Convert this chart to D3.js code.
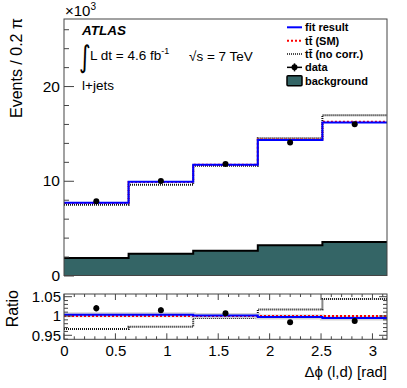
<!DOCTYPE html>
<html>
<head>
<meta charset="utf-8">
<script src="https://cdn.jsdelivr.net/npm/d3@7"></script>
<style>
  body { margin: 0; background: #fff; }
  svg { font-family: "Liberation Sans", Arial, sans-serif; }
</style>
</head>
<body>
<svg id="graph" width="407" height="388"></svg>
<script>
// bin edges in dphi (l,d), 5 bins of 0.2 pi
var binEdges = [0, 0.2 * Math.PI, 0.4 * Math.PI, 0.6 * Math.PI, 0.8 * Math.PI, Math.PI];
var binCenters = binEdges.slice(0, 5).map((e, i) => (e + binEdges[i + 1]) / 2);

// main panel, events in units of 10^3
var fitResult = [7.69, 9.90, 11.70, 14.31, 16.14];
var ttSM = [7.66, 9.87, 11.69, 14.35, 16.22];
var ttNoCorr = [7.48, 9.59, 11.60, 14.49, 16.92];
var dataValues = [7.83, 9.98, 11.77, 14.03, 15.97];
var background = [1.85, 2.30, 2.62, 3.19, 3.54];

// ratio panel
var ratioFit = [1.0035, 1.0035, 1.001, 0.9975, 0.995];
var ratioSM = [1.0, 1.0, 1.0, 1.0, 1.0];
var ratioNoCorr = [0.966, 0.972, 0.995, 1.017, 1.044];
var ratioData = [1.020, 1.015, 1.007, 0.984, 0.987];
var ratioErr = [0.008, 0.007, 0.006, 0.005, 0.005];

var yTicksMain = [0, 10, 20];
var yTicksRatio = [0.95, 1, 1.05];
var xTicks = [0, 0.5, 1, 1.5, 2, 2.5, 3];

var legendLabels = ["fit result", "tt\u0304 (SM)", "tt\u0304 (no corr.)", "data", "background"];

var left = 64, right = 387;
var mainTop = 19, mainBottom = 275.5;
var ratioTop = 294, ratioBottom = 339.3;

var svg = d3.select("svg#graph");

var x = d3.scaleLinear().domain([0, Math.PI]).range([left, right]);
var yMain = d3.scaleLinear().domain([0, 27.08]).range([mainBottom, mainTop]);
var yRatio = d3.scaleLinear().domain([0.9396, 1.057]).range([ratioBottom, ratioTop]);

function stepLine(values, yScale) {
  var pts = binEdges.map((e, i) => [e, values[Math.min(i, values.length - 1)]]);
  return d3.line()
    .x(d => x(d[0]))
    .y(d => yScale(d[1]))
    .curve(d3.curveStepAfter)(pts);
}

function stepArea(values, yScale) {
  var pts = binEdges.map((e, i) => [e, values[Math.min(i, values.length - 1)]]);
  return d3.area()
    .x(d => x(d[0]))
    .y0(yScale(0))
    .y1(d => yScale(d[1]))
    .curve(d3.curveStepAfter)(pts);
}

// ---------- main panel ----------
var main = svg.append("g");

main.append("path")
  .attr("d", stepArea(background, yMain))
  .attr("fill", "#346566");
main.append("path")
  .attr("d", stepLine(background, yMain))
  .attr("fill", "none")
  .attr("stroke", "#000")
  .attr("stroke-width", 2);

main.append("path")
  .attr("d", stepLine(ttNoCorr, yMain))
  .attr("fill", "none")
  .attr("stroke", "#111")
  .attr("stroke-width", 2)
  .attr("stroke-dasharray", "1,1");

main.append("path")
  .attr("d", stepLine(ttSM, yMain))
  .attr("fill", "none")
  .attr("stroke", "#ff0000")
  .attr("stroke-width", 2)
  .attr("stroke-dasharray", "2,2");

main.append("path")
  .attr("d", stepLine(fitResult, yMain))
  .attr("fill", "none")
  .attr("stroke", "#0000ff")
  .attr("stroke-width", 2);

main.selectAll("circle.data")
  .data(dataValues)
  .enter()
  .append("circle")
  .attr("class", "data")
  .attr("cx", (d, i) => x(binCenters[i]))
  .attr("cy", d => yMain(d))
  .attr("r", 3)
  .attr("fill", "#000");

// frame
main.append("rect")
  .attr("x", left).attr("y", mainTop)
  .attr("width", right - left).attr("height", mainBottom - mainTop)
  .attr("fill", "none").attr("stroke", "#444").attr("stroke-width", 1);

// y axis, ROOT style ticks pointing inwards
var yAxisMain = d3.axisRight(yMain)
  .tickValues(d3.range(0, 27, 2))
  .tickSize(5)
  .tickFormat("");
main.append("g")
  .attr("transform", "translate(" + left + ",0)")
  .call(yAxisMain)
  .call(g => g.select(".domain").remove())
  .call(g => g.selectAll(".tick line")
    .attr("stroke", "#444")
    .attr("x2", d => yTicksMain.includes(d) ? 10 : 5));

main.selectAll("text.ytick")
  .data(yTicksMain)
  .enter()
  .append("text")
  .attr("class", "ytick")
  .attr("x", left - 4)
  .attr("y", d => yMain(d) + 5.5)
  .attr("text-anchor", "end")
  .attr("font-size", 15.5)
  .text(d => d);

main.append("text")
  .attr("x", left + 1)
  .attr("y", 16)
  .attr("font-size", 15)
  .html('\u00d710<tspan dy="-6" font-size="10">3</tspan>');

main.append("text")
  .attr("transform", "translate(22,18) rotate(-90)")
  .attr("text-anchor", "end")
  .attr("font-size", 16)
  .text("Events / 0.2 \u03c0");

// labels in the plot
main.append("text")
  .attr("x", 82).attr("y", 35)
  .attr("font-size", 13.5)
  .attr("font-weight", "bold")
  .attr("font-style", "italic")
  .text("ATLAS");

main.append("text")
  .attr("transform", "translate(79,67) scale(0.75,1)")
  .attr("font-family", "DejaVu Sans")
  .attr("font-size", 30)
  .text("\u222b");

main.append("text")
  .attr("x", 90).attr("y", 60)
  .attr("font-size", 13.5)
  .html('L dt = 4.6 fb<tspan dy="-6" font-size="9">-1</tspan>');

main.append("text")
  .attr("x", 189).attr("y", 61)
  .attr("font-size", 13.5)
  .text("\u221as = 7 TeV");

main.append("text")
  .attr("x", 82).attr("y", 90)
  .attr("font-size", 13.5)
  .text("l+jets");

// legend
var legend = main.append("g");
var rowY = d3.scaleLinear().domain([0, 4]).range([27.3, 80.7]);
var lx0 = 287, lx1 = 302;

legend.append("line")
  .attr("x1", lx0).attr("x2", lx1).attr("y1", rowY(0)).attr("y2", rowY(0))
  .attr("stroke", "#0000ff").attr("stroke-width", 2);
legend.append("line")
  .attr("x1", lx0).attr("x2", lx1).attr("y1", rowY(1)).attr("y2", rowY(1))
  .attr("stroke", "#ff0000").attr("stroke-width", 2).attr("stroke-dasharray", "2,2");
legend.append("line")
  .attr("x1", lx0).attr("x2", lx1).attr("y1", rowY(2)).attr("y2", rowY(2))
  .attr("stroke", "#111").attr("stroke-width", 1.5).attr("stroke-dasharray", "1,1");
legend.append("line")
  .attr("x1", lx0).attr("x2", lx1).attr("y1", rowY(3)).attr("y2", rowY(3))
  .attr("stroke", "#000").attr("stroke-width", 1.5);
legend.append("line")
  .attr("x1", (lx0 + lx1) / 2).attr("x2", (lx0 + lx1) / 2)
  .attr("y1", rowY(3) - 4).attr("y2", rowY(3) + 4)
  .attr("stroke", "#000").attr("stroke-width", 1.5);
legend.append("circle")
  .attr("cx", (lx0 + lx1) / 2).attr("cy", rowY(3)).attr("r", 3).attr("fill", "#000");
legend.append("rect")
  .attr("x", lx0).attr("y", rowY(4) - 5)
  .attr("width", lx1 - lx0).attr("height", 10)
  .attr("rx", 1)
  .attr("fill", "#346566").attr("stroke", "#000").attr("stroke-width", 1.5);

legend.selectAll("text")
  .data(legendLabels)
  .enter()
  .append("text")
  .attr("x", 305)
  .attr("y", (d, i) => rowY(i) + 4)
  .attr("font-size", 11)
  .attr("font-weight", "bold")
  .text(d => d);

// ---------- ratio panel ----------
var ratio = svg.append("g");

ratio.append("path")
  .attr("d", stepLine(ratioNoCorr, yRatio))
  .attr("fill", "none")
  .attr("stroke", "#111")
  .attr("stroke-width", 2)
  .attr("stroke-dasharray", "1,1");

ratio.append("path")
  .attr("d", stepLine(ratioFit, yRatio))
  .attr("fill", "none")
  .attr("stroke", "#d4d4d4")
  .attr("stroke-width", 5);

ratio.append("path")
  .attr("d", stepLine(ratioSM, yRatio))
  .attr("fill", "none")
  .attr("stroke", "#ff0000")
  .attr("stroke-width", 2)
  .attr("stroke-dasharray", "2,2");

ratio.append("path")
  .attr("d", stepLine(ratioFit, yRatio))
  .attr("fill", "none")
  .attr("stroke", "#0000ff")
  .attr("stroke-width", 2);

ratio.selectAll("line.err")
  .data(ratioData)
  .enter()
  .append("line")
  .attr("class", "err")
  .attr("x1", (d, i) => x(binCenters[i]))
  .attr("x2", (d, i) => x(binCenters[i]))
  .attr("y1", (d, i) => yRatio(d - ratioErr[i]))
  .attr("y2", (d, i) => yRatio(d + ratioErr[i]))
  .attr("stroke", "#000")
  .attr("stroke-width", 2);

ratio.selectAll("circle.data")
  .data(ratioData)
  .enter()
  .append("circle")
  .attr("class", "data")
  .attr("cx", (d, i) => x(binCenters[i]))
  .attr("cy", d => yRatio(d))
  .attr("r", 3)
  .attr("fill", "#000");

ratio.append("rect")
  .attr("x", left).attr("y", ratioTop)
  .attr("width", right - left).attr("height", ratioBottom - ratioTop)
  .attr("fill", "none").attr("stroke", "#444").attr("stroke-width", 1);

// y ticks on both sides
var yMinor = d3.range(0.94, 1.0575, 0.01).map(v => +v.toFixed(2));
[[left, 1], [right, -1]].forEach(function (side) {
  ratio.append("g")
    .selectAll("line")
    .data(yMinor)
    .enter()
    .append("line")
    .attr("x1", side[0])
    .attr("x2", d => side[0] + side[1] * (yTicksRatio.includes(d) ? 8 : 4))
    .attr("y1", d => yRatio(d))
    .attr("y2", d => yRatio(d))
    .attr("stroke", "#444");
});

// x ticks on bottom and top
var xMinor = d3.range(0, 3.15, 0.1).map(v => +v.toFixed(1));
[[ratioBottom, -1], [ratioTop, 1]].forEach(function (side) {
  ratio.append("g")
    .selectAll("line")
    .data(xMinor)
    .enter()
    .append("line")
    .attr("x1", d => x(d))
    .attr("x2", d => x(d))
    .attr("y1", side[0])
    .attr("y2", d => side[0] + side[1] * (xTicks.includes(d) ? 6 : 3))
    .attr("stroke", "#444");
});

ratio.selectAll("text.ytick")
  .data(yTicksRatio)
  .enter()
  .append("text")
  .attr("class", "ytick")
  .attr("x", left - 3)
  .attr("y", d => yRatio(d) + 5.5)
  .attr("text-anchor", "end")
  .attr("font-size", 15)
  .text(d => d);

var xAxis = d3.axisBottom(x)
  .tickValues(xTicks)
  .tickSize(0)
  .tickPadding(6)
  .tickFormat(d => d);
ratio.append("g")
  .attr("transform", "translate(0," + ratioBottom + ")")
  .call(xAxis)
  .call(g => g.select(".domain").remove())
  .call(g => g.selectAll("text")
    .attr("font-size", 15)
    .attr("font-family", "Liberation Sans, Arial, sans-serif")
    .attr("fill", "#000"));

ratio.append("text")
  .attr("transform", "translate(18,290) rotate(-90)")
  .attr("text-anchor", "end")
  .attr("font-size", 16)
  .text("Ratio");

ratio.append("text")
  .attr("x", right)
  .attr("y", 377)
  .attr("text-anchor", "end")
  .attr("font-size", 15)
  .text("\u0394\u03d5 (l,d) [rad]");
</script>
</body>
</html>
